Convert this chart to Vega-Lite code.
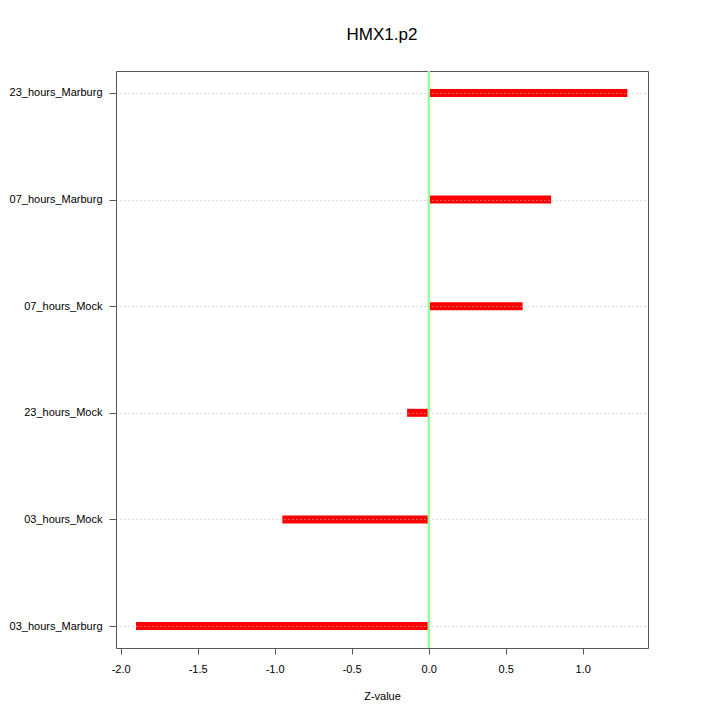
{
  "$schema": "https://vega.github.io/schema/vega-lite/v6.json",
  "autosize": {"type": "none"},
  "padding": {"left": 116, "top": 71, "right": 72, "bottom": 72},
  "width": 532,
  "height": 577,
  "background": "white",
  "title": {"text": "HMX1.p2", "font": "Liberation Sans", "fontSize": 17, "fontWeight": "normal", "color": "black", "offset": 26, "anchor": "middle"},
  "config": {
    "view": {"stroke": "#555555", "strokeWidth": 1},
    "axis": {"labelFont": "Liberation Sans", "titleFont": "Liberation Sans", "labelColor": "black", "titleColor": "black", "tickColor": "#555555", "domain": false}
  },
  "data": {"values": [
    {"sample": "23_hours_Marburg", "z": 1.29},
    {"sample": "07_hours_Marburg", "z": 0.795},
    {"sample": "07_hours_Mock", "z": 0.61},
    {"sample": "23_hours_Mock", "z": -0.14},
    {"sample": "03_hours_Mock", "z": -0.95},
    {"sample": "03_hours_Marburg", "z": -1.9}
  ]},
  "layer": [
    {
      "mark": {"type": "rule", "color": "#ff0000", "strokeWidth": 8, "strokeCap": "butt"},
      "encoding": {
        "x": {"field": "z", "type": "quantitative",
          "scale": {"domain": [-2.03, 1.424], "nice": false, "zero": false},
          "axis": {"title": "Z-value", "values": [-2, -1.5, -1, -0.5, 0, 0.5, 1], "labelExpr": "replace(format(datum.value, '.1f'), '\u2212', '-')", "grid": false, "tickSize": 6, "labelPadding": 9, "labelFontSize": 11, "titleFontSize": 11, "titleFontWeight": "normal", "titlePadding": 16}},
        "x2": {"datum": 0},
        "y": {"field": "sample", "type": "ordinal",
          "scale": {"type": "point", "padding": 0.206, "domain": ["23_hours_Marburg", "07_hours_Marburg", "07_hours_Mock", "23_hours_Mock", "03_hours_Mock", "03_hours_Marburg"]},
          "axis": {"title": null, "tickSize": 7, "labelPadding": 7, "labelFontSize": 11, "grid": true, "gridColor": "#bbbbbb", "gridDash": [1, 3], "gridWidth": 1, "zindex": 1}}
      }
    },
    {
      "mark": {"type": "rule", "color": "#99ff99", "strokeWidth": 1.5},
      "encoding": {"x": {"datum": 0}}
    }
  ]
}
